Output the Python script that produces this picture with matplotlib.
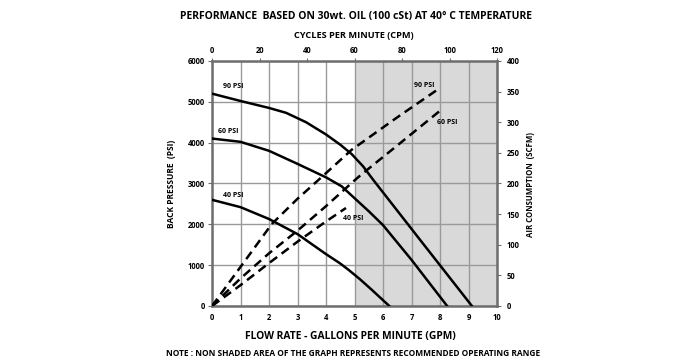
import numpy as np
import matplotlib.pyplot as plt

# flow rate (GPM) vs back pressure (PSI) - solid curves
gpm_90 = [0, 1, 2, 2.6, 3.3, 4, 4.5, 4.9, 5.3, 5.66, 7.3, 9.12]
psi_90 = [5200, 5020, 4850, 4730, 4500, 4200, 3950, 3720, 3420, 3085, 1620, 0]
gpm_60 = [0, 1, 2, 3, 4, 4.55, 5, 5.5, 6, 7, 8.25]
psi_60 = [4100, 4020, 3800, 3480, 3150, 2930, 2640, 2320, 1980, 1130, 0]
gpm_40 = [0, 1, 2, 3, 4, 4.5, 4.8, 5.2, 5.6, 6.22]
psi_40 = [2600, 2420, 2130, 1760, 1270, 1040, 880, 650, 400, 0]

# flow rate (GPM) vs air consumption (SCFM) - dashed curves
air_gpm_90 = [0, 1.05, 2.1, 3.0, 3.86, 4.9, 6.5, 8.0]
scfm_90 = [0, 67, 134, 175, 211, 255, 308, 356]
air_gpm_60 = [0, 1, 2, 3, 4, 5, 5.25, 6.5, 8.06]
scfm_60 = [0, 45, 86, 123, 163, 205, 215, 262, 321]
air_gpm_40 = [0, 1, 2, 3, 4, 4.7]
scfm_40 = [0, 34, 70, 105, 138, 160]

x_ticks = list(range(0, 11))
cpm_ticks = [0, 20, 40, 60, 80, 100, 120]
psi_ticks = [0, 1000, 2000, 3000, 4000, 5000, 6000]
scfm_ticks = [0, 50, 100, 150, 200, 250, 300, 350, 400]

plt.rcParams['font.family'] = ['Open Sans', 'DejaVu Sans']
plt.rcParams['font.weight'] = 'bold'

fig = plt.figure(figsize=(7, 3.61), dpi=100)
ax = fig.add_axes([0.3029, 0.1524, 0.4071, 0.6787])

frame_c = '#6e6e6e'
grid_c = '#9a9a9a'

ax.axvspan(5, 10, color='#d9d9d9', zorder=0, lw=0)
ax.set_xlim(0, 10)
ax.set_ylim(0, 6000)
ax.set_xticks(x_ticks)
ax.set_yticks(psi_ticks)
ax.grid(True, color=grid_c, lw=1.0, zorder=1)
ax.set_axisbelow(True)
for s in ax.spines.values():
    s.set_color(frame_c)
    s.set_linewidth(1.8)
ax.tick_params(axis='both', colors=frame_c, labelcolor='black', labelsize=5.5,
               length=3, width=0.8, pad=2)
ax.tick_params(axis='x', length=0, pad=5)

lw = 1.8
ax.plot(gpm_90, psi_90, color='black', lw=lw, zorder=3)
ax.plot(gpm_60, psi_60, color='black', lw=lw, zorder=3)
ax.plot(gpm_40, psi_40, color='black', lw=lw, zorder=3)

ax2 = ax.twinx()
ax2.set_ylim(0, 400)
ax2.set_yticks(scfm_ticks)
ax2.tick_params(axis='y', colors=frame_c, labelcolor='black', labelsize=5.5,
                length=3, width=0.8, pad=4)
for s in ax2.spines.values():
    s.set_visible(False)
dash = dict(color='black', lw=lw, dashes=(3.6, 2.2), zorder=3)
ax2.plot(air_gpm_90, scfm_90, **dash)
ax2.plot(air_gpm_60, scfm_60, **dash)
ax2.plot(air_gpm_40, scfm_40, **dash)

ax3 = ax.twiny()
ax3.set_xlim(0, 120)
ax3.set_xticks(cpm_ticks)
ax3.tick_params(axis='x', colors=frame_c, labelcolor='black', labelsize=5.5,
                length=2, width=0.8, pad=2)
for s in ax3.spines.values():
    s.set_visible(False)

# curve labels
lab = dict(fontsize=5, fontweight='bold')
ax.text(0.4, 5330, '90 PSI', **lab)
ax.text(0.22, 4230, '60 PSI', **lab)
ax.text(0.4, 2680, '40 PSI', **lab)
ax2.text(7.1, 358, '90 PSI', **lab)
ax2.text(7.9, 297, '60 PSI', **lab)
ax2.text(4.6, 140, '40 PSI', **lab)

fig.text(0.508, 0.955, 'PERFORMANCE  BASED ON 30wt. OIL (100 cSt) AT 40\u00b0 C TEMPERATURE',
         ha='center', va='center', fontsize=7.5, fontweight='bold')
fig.text(0.505, 0.903, 'CYCLES PER MINUTE (CPM)', ha='center', va='center',
         fontsize=6.6, fontweight='bold')
fig.text(0.2457, 0.49, 'BACK PRESSURE  (PSI)', ha='center', va='center',
         rotation=90, fontsize=6, fontweight='bold')
fig.text(0.758, 0.49, 'AIR CONSUMPTION  (SCFM)', ha='center', va='center',
         rotation=90, fontsize=5.6, fontweight='bold')
fig.text(0.501, 0.069, 'FLOW RATE - GALLONS PER MINUTE (GPM)', ha='center', va='center',
         fontsize=7.4, fontweight='bold')
fig.text(0.505, 0.022, 'NOTE : NON SHADED AREA OF THE GRAPH REPRESENTS RECOMMENDED OPERATING RANGE',
         ha='center', va='center', fontsize=6, fontweight='bold')

fig.savefig('out.png', dpi=100)
